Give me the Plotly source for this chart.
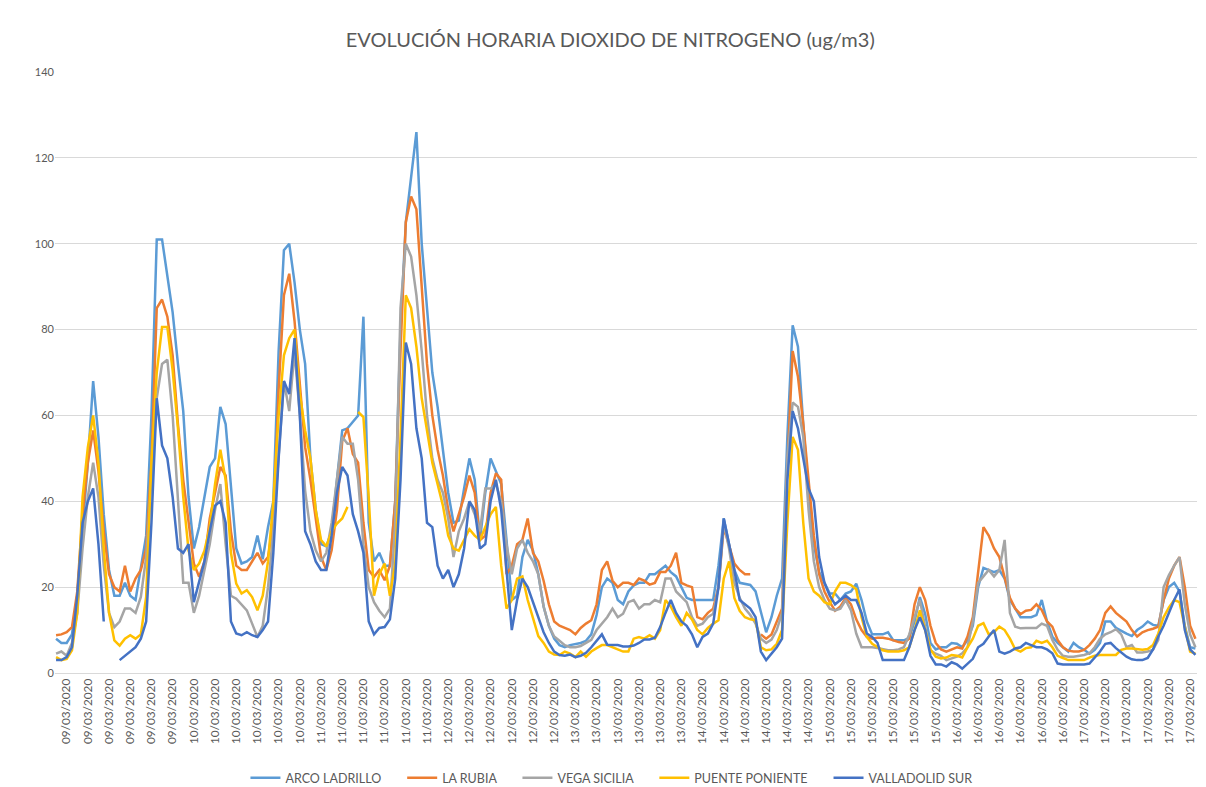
import plotly.graph_objects as go
import pandas as pd

# ---------------- data ----------------
horas = pd.date_range("2020-03-09 00:00", periods=216, freq="h")
categorias = [h.strftime("%d/%m/%Y %H:%M") for h in horas]
ticks_cat = categorias[2::4]
ticks_txt = [c[:10] for c in ticks_cat]

estaciones = ["ARCO LADRILLO", "LA RUBIA", "VEGA SICILIA", "PUENTE PONIENTE", "VALLADOLID SUR"]
colores = ["#5B9BD5", "#ED7D31", "#A5A5A5", "#FFC000", "#4472C4"]

arco_ladrillo = (
    [8, 7, 7, 9, 18, 33, 49, 68, 55, 37, 24, 18, 18, 21, 18, 17, 24, 32, 60, 101, 101, 93, 84, 72]
    + [61, 41, 29, 34, 41, 48, 50, 62, 58, 44, 29, 25.5, 26, 27, 32, 26.5, 34, 40, 75, 98.5, 100, 91, 80, 72]
    + [50, 38, 30, 29.5, 33, 45, 56.5, 57, 58.5, 60, 83, 35, 26, 28, 25, 25, 40, 80, 105, 116, 126, 100, 85, 70]
    + [62, 52, 42, 35, 35.5, 43, 50, 45, 31, 42, 50, 47, 44, 31, 17, 18, 27, 31, 28.5, 23, 15.5, 11, 8, 6.5]
    + [6, 6.5, 6.8, 7, 7.5, 9, 13.5, 20, 22, 21, 17, 16, 19, 20.4, 21, 21, 23, 23, 24, 25, 23.5, 22.5, 20, 17.5]
    + [17, 17, 17, 17, 17, 25, 36, 30, 24, 21, 20.8, 20.5, 19, 14, 9.5, 13, 18, 22, 55, 81, 76, 58, 42, 30]
    + [23.5, 21, 18.5, 18.5, 17, 18.5, 19, 20.8, 17, 12, 9, 9, 9, 9.5, 7.6, 7.6, 7.6, 8.2, 12, 17.7, 13.8, 7, 5.5, 6]
    + [6, 7, 6.8, 6, 7.7, 11, 20, 24.5, 24, 23.5, 24, 22, 17, 15, 13, 13, 13, 13.5, 17, 12, 8.5, 7, 6, 5]
    + [7, 6, 5.4, 4.5, 5.4, 7, 12, 12, 10.5, 9.8, 9.2, 8.6, 10, 10.8, 12, 11.2, 11, 17, 20, 21, 19, 11, 6, 5.7]
)

la_rubia = (
    [8.8, 9, 9.5, 10.7, 19, 37, 49, 56.5, 47, 33, 23, 20, 19, 25, 19, 22, 24, 29, 49, 85, 87, 83, 74, 58]
    + [45, 35, 25.5, 22.4, 26, 36, 42, 48, 46, 33, 25, 24, 24, 26, 28, 25.5, 27, 35, 66, 88, 93, 82, 68, 52.6]
    + [45, 36, 27, 24, 28.6, 38, 54, 57, 51, 49, 35, 24, 22.4, 24, 21.6, 25, 40, 75, 105, 111, 108, 90, 72, 60]
    + [52, 46, 38, 33, 37, 41, 46, 42, 31, 32, 42, 46.5, 45, 23, 25, 30, 31, 36, 28, 26, 21.5, 16, 12, 11]
    + [10.5, 10, 9, 10.5, 11.5, 12.3, 16, 24, 26, 21.5, 20, 21, 21, 20.5, 22, 21.5, 20.6, 21, 23.5, 23.5, 25, 28, 21, 20.4]
    + [20, 13, 12.5, 14, 15, 20, 34, 30, 25.5, 24, 23, 23, None, 9, 8, 9, 12, 15, 48, 75, 69, 58, 45, 32]
    + [23, 19, 16.5, 14.5, 15.5, 17.5, 16, 12.5, 10, 8.4, 8, 8.2, 8.2, 8, 7.6, 7.2, 7, 8, 16, 20, 17, 11, 7, 5.5]
    + [5, 5.5, 6, 5.7, 8.5, 13, 23, 34, 32, 29, 27, 22, 17.5, 15, 13.7, 14.5, 14.7, 16, 14.7, 12, 10.8, 7.7, 6, 5.2]
    + [5, 5, 5.4, 6.5, 8, 10, 14, 15.5, 14, 13, 12, 10, 8.5, 9.5, 10, 10.3, 10.8, 17, 22, 25, 27, 20, 11, 8]
)

vega_sicilia = (
    [4.5, 5, 4, 7, 14, 29, 41, 49, 41, 25, 14, 10.7, 12, 15, 15, 14, 17.7, 27, 45, 64, 72, 73, 60, 40]
    + [21, 21, 14, 18, 24, 30, 38, 44, 30, 18, 17.3, 16, 14.6, 11.5, 8.4, 11, 20, 33, 50, 68, 61, 75, 60, 42.5]
    + [33, 28.6, 26, 28, 35, 45, 55, 53.4, 53.4, 45, 30, 20, 16.5, 14.5, 13, 15, 35, 85, 100, 97, 88, 75, 60, 50]
    + [45, 42, 36, 27, 33, 36, 40, 37, 33, 43, 43, 44, 40, 30, 23, 29, 31, 28, 26, 23, 15.5, 11, 8.5, 7.5]
    + [6.5, 6, 6, 6.3, 7, 7.7, 10, 11.5, 13, 15, 13, 13.8, 16.5, 17, 15, 16, 16, 17, 16.5, 22, 22, 19, 17.7, 16.5]
    + [13, 11, 11.5, 13, 13.8, 20, 35, 29, 21, 17.5, 15, 13.5, 11.5, 8, 7, 7.8, 10, 14, 50, 63, 62, 55, 38, 26]
    + [20, 17, 15, 14.6, 15, 17, 14.6, 9.2, 6, 6, 6, 5.8, 5.5, 5.3, 5.3, 5.5, 6, 9, 13, 17, 10.7, 5.3, 4.5, 4]
    + [3, 3.4, 3.8, 4.6, 6, 12, 21, 22.5, 24, 22.5, 24, 31, 14, 10.8, 10.4, 10.5, 10.5, 10.5, 11.5, 11, 7.7, 5.4, 4, 3.8]
    + [3.8, 4, 4.2, 4.6, 6, 8, 9, 9.5, 10.2, 9, 6, 6.5, 4.8, 4.8, 5, 5.4, 7.7, 20, 22.8, 25, 27, 16, 9, 6]
)

puente_poniente = (
    [3.7, 3, 3.3, 5.3, 14, 41, 52.6, 60, 49, 29, 14, 7.6, 6.4, 8, 8.8, 8, 9, 17.7, 49, 70, 80.6, 80.6, 70.5, 57]
    + [41, 28.6, 24, 25.5, 28.5, 34, 44, 52, 45, 28, 20.8, 18.5, 19.3, 17.7, 14.6, 18, 26, 40, 60, 74, 78, 80, 65, 56.5]
    + [50, 38, 31, 29.5, 33, 34.8, 36, 38.7, None, 60.8, 59.6, 41, 18, 23, 25.5, 18, 25.5, 55, 88, 85, 76, 64, 57, 49]
    + [44, 39, 32, 29, 28.5, 31, 33.5, 32, 31, 34, 37, 38.7, 25, 15, 17, 22, 22.5, 17, 13, 8.6, 7, 5, 4.3, 4.2]
    + [5, 4.5, 3.7, 5, 3.8, 5, 5.8, 6.5, 6.5, 6, 5.5, 5, 5, 8, 8.4, 8, 8.8, 8, 10, 17, 15.5, 13, 11, 14]
    + [12.5, 10, 9, 10.5, 11.5, 12.3, 22, 26, 17.5, 14.5, 13, 12.5, 12.3, 6, 5.3, 5.5, 6.8, 10, 35, 55, 52, 35, 22, 19]
    + [18, 16.5, 16, 19, 21, 21, 20.5, 19.5, 13, 8.4, 6.8, 6, 5.3, 5, 5, 5, 5.3, 6, 10, 14.6, 10, 5.5, 3.8, 3.4]
    + [3.6, 4.2, 4, 3.6, 6, 8, 11, 11.6, 9, 9.5, 10.8, 10, 8, 5.5, 5, 5.8, 6, 7.5, 7, 7.5, 6, 4, 3.5, 3]
    + [3, 3, 3, 3.6, 4, 4.2, 4.2, 4.2, 4.2, 5.4, 5.7, 5.7, 5.5, 5.4, 5.6, 6.5, 9.2, 13, 15.3, 17, 16.5, 11, 5, 4.5]
)

valladolid_sur = (
    [3, 3, 3.7, 6, 18, 35, 40, 43, 30, 12, None, None, 3, 4, 5, 6, 8, 12, 35, 64, 53, 50, 41, 29]
    + [28, 30, 16.5, 21, 26, 33, 39, 40, 35, 12, 9.2, 8.8, 9.5, 8.8, 8.4, 10, 12, 28, 50, 68, 65, 78, 60, 33]
    + [30, 26, 24, 24, 32, 42, 48, 46, 37, 33, 28, 12, 9, 10.5, 10.7, 12.5, 22, 45, 77, 72, 57, 50, 35, 34]
    + [25, 22, 24, 20, 23, 29, 40, 38, 29, 30, 40, 45, 38, 24, 10, 17, 22, 20, 16.5, 13, 9.5, 7, 5, 4.2]
    + [4, 4.3, 3.7, 4, 4.7, 6, 7.5, 9, 6.6, 6.6, 6.5, 6.2, 6.2, 6.4, 7, 7.8, 7.8, 8.2, 10.7, 14, 17, 14, 12, 11]
    + [9, 6, 8.4, 9.2, 11.5, 20, 36, 30, 24, 17, 16, 15, 13, 5, 3, 4.5, 6, 8, 45, 61, 57, 50, 43, 40]
    + [27, 21, 18, 16, 17, 18, 17, 17, 14, 9.2, 8.4, 7, 3, 3, 3, 3, 3, 6, 10, 13, 10, 4, 2, 2]
    + [1.5, 2.5, 2, 1, 2.2, 3.3, 6, 6.8, 8.5, 10, 5, 4.5, 5, 5.7, 6, 7, 6.5, 6, 6, 5.5, 4.6, 2.2, 2, 2]
    + [2, 2, 2, 2.2, 3.5, 5, 6.8, 7, 5.8, 4.8, 3.8, 3.2, 3, 3, 3.5, 5.5, 8.5, 11, 14, 17, 19.5, 10, 5.5, 4.2]
)

valores = [arco_ladrillo, la_rubia, vega_sicilia, puente_poniente, valladolid_sur]

# ---------------- figure ----------------
fig = go.Figure()
n = len(estaciones)
for k, (nombre, color, serie) in enumerate(zip(estaciones, colores, valores)):
    etiqueta = nombre + ("\u00a0" * 5 if k < n - 1 else "")
    fig.add_trace(go.Scatter(
        x=categorias, y=serie, mode="lines", name=etiqueta,
        line=dict(color=color, width=2.5), connectgaps=False,
    ))

FONT = "Lato, 'Open Sans', sans-serif"
GRIS = "#595959"

fig.update_layout(
    width=1206, height=787,
    margin=dict(l=55, r=9, t=72, b=114),
    paper_bgcolor="white", plot_bgcolor="white",
    font=dict(family=FONT, color=GRIS, size=11),
    title=dict(
        text="EVOLUCIÓN HORARIA DIOXIDO DE NITROGENO (ug/m3)",
        x=0.506, xref="container", xanchor="center",
        y=1 - 40 / 787, yref="container", yanchor="middle",
        font=dict(family=FONT, size=20, color=GRIS),
    ),
    legend=dict(
        orientation="h",
        x=0.507, xref="container", xanchor="center",
        y=1 - 778 / 787, yref="container", yanchor="middle",
        font=dict(family=FONT, size=12.5, color=GRIS),
        itemwidth=30,
    ),
    hovermode=False,
)

fig.update_xaxes(
    type="category",
    range=[-0.2, 215.3],
    tickmode="array", tickvals=ticks_cat, ticktext=ticks_txt,
    tickangle=-90, tickfont=dict(size=11.8, color=GRIS),
    showgrid=False, zeroline=False,
    showline=True, linecolor="#D9D9D9", linewidth=1,
    ticks="",
)
fig.update_yaxes(
    range=[0, 140], tick0=0, dtick=20,
    showgrid=True, gridcolor="#D9D9D9", gridwidth=1,
    zeroline=False, showline=False, ticks="",
    tickfont=dict(size=11, color=GRIS),
)

fig.write_html(
    "out.html",
    config={"displayModeBar": False},
    post_script="document.body.style.margin='0';document.body.style.overflow='hidden';",
)
